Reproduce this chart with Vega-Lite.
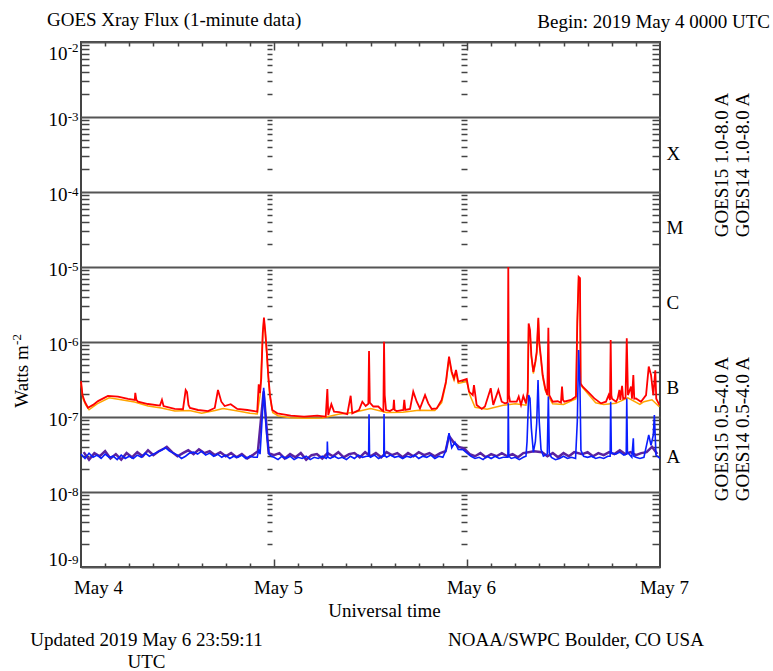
{
  "$schema": "https://vega.github.io/schema/vega-lite/v6.json",
  "width": 579,
  "height": 525,
  "autosize": {"type": "none"},
  "padding": {"left": 81, "top": 42, "right": 113, "bottom": 104},
  "background": "white",
  "config": {
    "view": {"stroke": "#444", "strokeWidth": 2},
    "axis": {"grid": false, "domain": false, "labelFont": "Liberation Serif", "labelFontSize": 19, "labelColor": "#000", "titleFont": "Liberation Serif", "titleFontSize": 19, "titleFontWeight": "normal", "titleColor": "#000", "tickColor": "#444", "tickWidth": 1.5}
  },
  "datasets": {
    "red": [
      {"t":"2019-05-04T00:00Z","v":3.0e-7},{"t":"2019-05-04T00:11Z","v":1.96e-7},{"t":"2019-05-04T00:28Z","v":1.6e-7},{"t":"2019-05-04T00:52Z","v":1.33e-7},{"t":"2019-05-04T01:30Z","v":1.45e-7},{"t":"2019-05-04T02:07Z","v":1.63e-7},{"t":"2019-05-04T03:21Z","v":1.91e-7},{"t":"2019-05-04T04:36Z","v":1.87e-7},{"t":"2019-05-04T05:51Z","v":1.74e-7},{"t":"2019-05-04T06:41Z","v":1.69e-7},{"t":"2019-05-04T06:45Z","v":2.1e-7},{"t":"2019-05-04T06:53Z","v":1.69e-7},{"t":"2019-05-04T07:05Z","v":1.6e-7},{"t":"2019-05-04T08:20Z","v":1.49e-7},{"t":"2019-05-04T09:49Z","v":1.42e-7},{"t":"2019-05-04T10:04Z","v":1.69e-7},{"t":"2019-05-04T10:16Z","v":1.4e-7},{"t":"2019-05-04T11:39Z","v":1.28e-7},{"t":"2019-05-04T12:41Z","v":1.27e-7},{"t":"2019-05-04T13:01Z","v":2.29e-7},{"t":"2019-05-04T13:11Z","v":2.15e-7},{"t":"2019-05-04T13:22Z","v":1.45e-7},{"t":"2019-05-04T13:33Z","v":1.32e-7},{"t":"2019-05-04T14:33Z","v":1.24e-7},{"t":"2019-05-04T15:48Z","v":1.2e-7},{"t":"2019-05-04T16:38Z","v":1.32e-7},{"t":"2019-05-04T17:02Z","v":2.29e-7},{"t":"2019-05-04T17:27Z","v":1.6e-7},{"t":"2019-05-04T17:52Z","v":1.4e-7},{"t":"2019-05-04T18:37Z","v":1.48e-7},{"t":"2019-05-04T19:26Z","v":1.28e-7},{"t":"2019-05-04T20:41Z","v":1.24e-7},{"t":"2019-05-04T21:55Z","v":1.18e-7},{"t":"2019-05-04T22:06Z","v":2.73e-7},{"t":"2019-05-04T22:16Z","v":2.09e-7},{"t":"2019-05-04T22:25Z","v":3.28e-7},{"t":"2019-05-04T22:36Z","v":1.31e-6},{"t":"2019-05-04T22:45Z","v":2.11e-6},{"t":"2019-05-04T22:55Z","v":1.37e-6},{"t":"2019-05-04T23:06Z","v":7.43e-7},{"t":"2019-05-04T23:17Z","v":3.63e-7},{"t":"2019-05-04T23:30Z","v":1.96e-7},{"t":"2019-05-04T23:47Z","v":1.24e-7},
      {"t":"2019-05-05T00:25Z","v":1.12e-7},{"t":"2019-05-05T02:05Z","v":1.04e-7},{"t":"2019-05-05T03:44Z","v":1.01e-7},{"t":"2019-05-05T05:23Z","v":1.04e-7},{"t":"2019-05-05T06:26Z","v":1.01e-7},{"t":"2019-05-05T06:38Z","v":2.36e-7},{"t":"2019-05-05T06:45Z","v":1.06e-7},{"t":"2019-05-05T07:08Z","v":1.48e-7},{"t":"2019-05-05T07:28Z","v":1.18e-7},{"t":"2019-05-05T08:05Z","v":1.16e-7},{"t":"2019-05-05T09:07Z","v":1.09e-7},{"t":"2019-05-05T09:32Z","v":1.92e-7},{"t":"2019-05-05T09:44Z","v":1.12e-7},{"t":"2019-05-05T10:34Z","v":1.24e-7},{"t":"2019-05-05T10:59Z","v":1.6e-7},{"t":"2019-05-05T11:24Z","v":1.4e-7},{"t":"2019-05-05T11:44Z","v":1.5e-7},{"t":"2019-05-05T11:49Z","v":7.6e-7},{"t":"2019-05-05T11:55Z","v":1.55e-7},{"t":"2019-05-05T12:21Z","v":1.38e-7},{"t":"2019-05-05T12:58Z","v":1.38e-7},{"t":"2019-05-05T13:24Z","v":1.24e-7},{"t":"2019-05-05T13:36Z","v":1.2e-7},{"t":"2019-05-05T13:41Z","v":1.01e-6},{"t":"2019-05-05T13:46Z","v":1.96e-7},{"t":"2019-05-05T13:56Z","v":1.24e-7},{"t":"2019-05-05T14:25Z","v":1.2e-7},{"t":"2019-05-05T14:50Z","v":1.28e-7},{"t":"2019-05-05T14:55Z","v":1.69e-7},{"t":"2019-05-05T15:00Z","v":1.24e-7},{"t":"2019-05-05T15:15Z","v":1.2e-7},{"t":"2019-05-05T16:05Z","v":1.24e-7},{"t":"2019-05-05T16:12Z","v":1.69e-7},{"t":"2019-05-05T16:20Z","v":1.24e-7},{"t":"2019-05-05T16:55Z","v":1.28e-7},{"t":"2019-05-05T17:19Z","v":2.18e-7},{"t":"2019-05-05T17:45Z","v":1.6e-7},{"t":"2019-05-05T18:09Z","v":1.3e-7},{"t":"2019-05-05T18:47Z","v":1.96e-7},{"t":"2019-05-05T19:11Z","v":1.52e-7},{"t":"2019-05-05T19:37Z","v":1.28e-7},{"t":"2019-05-05T20:14Z","v":1.3e-7},{"t":"2019-05-05T20:51Z","v":1.69e-7},{"t":"2019-05-05T21:23Z","v":2.96e-7},{"t":"2019-05-05T21:46Z","v":6.37e-7},{"t":"2019-05-05T22:06Z","v":4.02e-7},{"t":"2019-05-05T22:23Z","v":3.28e-7},{"t":"2019-05-05T22:38Z","v":4.23e-7},{"t":"2019-05-05T22:55Z","v":2.96e-7},{"t":"2019-05-05T23:32Z","v":3.11e-7},{"t":"2019-05-05T23:58Z","v":3.21e-7},
      {"t":"2019-05-06T00:15Z","v":2.18e-7},{"t":"2019-05-06T00:43Z","v":1.96e-7},{"t":"2019-05-06T00:52Z","v":2.67e-7},{"t":"2019-05-06T01:12Z","v":1.45e-7},{"t":"2019-05-06T01:50Z","v":1.28e-7},{"t":"2019-05-06T02:14Z","v":1.38e-7},{"t":"2019-05-06T02:57Z","v":2.42e-7},{"t":"2019-05-06T03:16Z","v":1.45e-7},{"t":"2019-05-06T03:54Z","v":2.29e-7},{"t":"2019-05-06T04:19Z","v":1.6e-7},{"t":"2019-05-06T04:43Z","v":1.52e-7},{"t":"2019-05-06T05:03Z","v":1.55e-7},{"t":"2019-05-06T05:08Z","v":1.0e-5},{"t":"2019-05-06T05:13Z","v":1.96e-7},{"t":"2019-05-06T05:21Z","v":1.6e-7},{"t":"2019-05-06T06:11Z","v":1.6e-7},{"t":"2019-05-06T06:26Z","v":1.87e-7},{"t":"2019-05-06T06:43Z","v":1.45e-7},{"t":"2019-05-06T07:00Z","v":1.9e-7},{"t":"2019-05-06T07:20Z","v":1.52e-7},{"t":"2019-05-06T07:33Z","v":2.18e-7},{"t":"2019-05-06T07:40Z","v":1.77e-6},{"t":"2019-05-06T07:50Z","v":1.45e-6},{"t":"2019-05-06T08:00Z","v":6.7e-7},{"t":"2019-05-06T08:15Z","v":4.0e-7},{"t":"2019-05-06T08:30Z","v":5.5e-7},{"t":"2019-05-06T08:40Z","v":7.4e-7},{"t":"2019-05-06T08:52Z","v":2.1e-6},{"t":"2019-05-06T08:59Z","v":1.0e-6},{"t":"2019-05-06T09:12Z","v":6.1e-7},{"t":"2019-05-06T09:25Z","v":3.6e-7},{"t":"2019-05-06T09:44Z","v":2.4e-7},{"t":"2019-05-06T09:59Z","v":1.96e-7},{"t":"2019-05-06T10:07Z","v":1.55e-6},{"t":"2019-05-06T10:14Z","v":1.96e-7},{"t":"2019-05-06T10:39Z","v":1.6e-7},{"t":"2019-05-06T11:17Z","v":1.62e-7},{"t":"2019-05-06T11:41Z","v":1.55e-7},{"t":"2019-05-06T11:49Z","v":2.54e-7},{"t":"2019-05-06T11:56Z","v":1.69e-7},{"t":"2019-05-06T12:06Z","v":1.6e-7},{"t":"2019-05-06T12:56Z","v":1.69e-7},{"t":"2019-05-06T13:33Z","v":1.87e-7},{"t":"2019-05-06T13:43Z","v":1.87e-6},{"t":"2019-05-06T13:53Z","v":7.4e-6},{"t":"2019-05-06T14:03Z","v":7.1e-6},{"t":"2019-05-06T14:08Z","v":2.8e-7},{"t":"2019-05-06T14:23Z","v":2.54e-7},{"t":"2019-05-06T15:01Z","v":2.18e-7},{"t":"2019-05-06T15:50Z","v":1.77e-7},{"t":"2019-05-06T16:40Z","v":1.52e-7},{"t":"2019-05-06T17:17Z","v":1.6e-7},{"t":"2019-05-06T17:37Z","v":1.96e-7},{"t":"2019-05-06T17:47Z","v":1.69e-7},{"t":"2019-05-06T17:52Z","v":1.06e-6},{"t":"2019-05-06T17:57Z","v":1.96e-7},{"t":"2019-05-06T18:02Z","v":1.75e-7},{"t":"2019-05-06T18:32Z","v":1.6e-7},{"t":"2019-05-06T18:44Z","v":1.75e-7},{"t":"2019-05-06T18:57Z","v":2.3e-7},{"t":"2019-05-06T19:04Z","v":1.69e-7},{"t":"2019-05-06T19:17Z","v":2.6e-7},{"t":"2019-05-06T19:25Z","v":1.75e-7},{"t":"2019-05-06T19:43Z","v":1.8e-7},{"t":"2019-05-06T19:52Z","v":1.12e-6},{"t":"2019-05-06T20:01Z","v":1.96e-7},{"t":"2019-05-06T20:24Z","v":2.54e-7},{"t":"2019-05-06T20:31Z","v":1.75e-7},{"t":"2019-05-06T20:41Z","v":3.63e-7},{"t":"2019-05-06T20:48Z","v":1.75e-7},{"t":"2019-05-06T21:01Z","v":1.77e-7},{"t":"2019-05-06T21:38Z","v":1.6e-7},{"t":"2019-05-06T22:16Z","v":1.96e-7},{"t":"2019-05-06T22:36Z","v":4.7e-7},{"t":"2019-05-06T22:53Z","v":3.63e-7},{"t":"2019-05-06T23:10Z","v":1.96e-7},{"t":"2019-05-06T23:25Z","v":4.2e-7},{"t":"2019-05-06T23:32Z","v":1.75e-7},{"t":"2019-05-06T23:43Z","v":1.6e-7},{"t":"2019-05-06T23:55Z","v":1.45e-7}
    ],
    "orange": [
      {"t":"2019-05-04T00:00Z","v":2.8e-7},{"t":"2019-05-04T00:15Z","v":1.75e-7},{"t":"2019-05-04T00:35Z","v":1.45e-7},{"t":"2019-05-04T01:00Z","v":1.25e-7},{"t":"2019-05-04T02:00Z","v":1.5e-7},{"t":"2019-05-04T03:30Z","v":1.8e-7},{"t":"2019-05-04T05:00Z","v":1.7e-7},{"t":"2019-05-04T06:40Z","v":1.58e-7},{"t":"2019-05-04T08:20Z","v":1.4e-7},{"t":"2019-05-04T10:00Z","v":1.32e-7},{"t":"2019-05-04T11:40Z","v":1.2e-7},{"t":"2019-05-04T13:30Z","v":1.22e-7},{"t":"2019-05-04T15:00Z","v":1.12e-7},{"t":"2019-05-04T16:40Z","v":1.22e-7},{"t":"2019-05-04T17:40Z","v":1.3e-7},{"t":"2019-05-04T19:30Z","v":1.2e-7},{"t":"2019-05-04T21:00Z","v":1.12e-7},{"t":"2019-05-04T21:55Z","v":1.1e-7},{"t":"2019-05-04T22:16Z","v":1.95e-7},{"t":"2019-05-04T22:36Z","v":1.25e-6},{"t":"2019-05-04T22:45Z","v":2.0e-6},{"t":"2019-05-04T22:55Z","v":1.3e-6},{"t":"2019-05-04T23:06Z","v":7.0e-7},{"t":"2019-05-04T23:17Z","v":3.4e-7},{"t":"2019-05-04T23:30Z","v":1.85e-7},{"t":"2019-05-04T23:50Z","v":1.15e-7},
      {"t":"2019-05-05T00:30Z","v":1.04e-7},{"t":"2019-05-05T02:00Z","v":9.8e-8},{"t":"2019-05-05T04:00Z","v":9.6e-8},{"t":"2019-05-05T06:00Z","v":9.7e-8},{"t":"2019-05-05T08:00Z","v":1.09e-7},{"t":"2019-05-05T10:00Z","v":1.16e-7},{"t":"2019-05-05T12:00Z","v":1.3e-7},{"t":"2019-05-05T14:00Z","v":1.15e-7},{"t":"2019-05-05T16:00Z","v":1.16e-7},{"t":"2019-05-05T18:00Z","v":1.23e-7},{"t":"2019-05-05T20:00Z","v":1.22e-7},{"t":"2019-05-05T20:51Z","v":1.55e-7},{"t":"2019-05-05T21:23Z","v":2.8e-7},{"t":"2019-05-05T21:46Z","v":6.0e-7},{"t":"2019-05-05T22:06Z","v":3.8e-7},{"t":"2019-05-05T22:23Z","v":3.1e-7},{"t":"2019-05-05T22:38Z","v":4.0e-7},{"t":"2019-05-05T22:55Z","v":2.8e-7},{"t":"2019-05-05T23:32Z","v":2.9e-7},{"t":"2019-05-05T23:58Z","v":3.0e-7},
      {"t":"2019-05-06T00:20Z","v":2.0e-7},{"t":"2019-05-06T01:00Z","v":1.35e-7},{"t":"2019-05-06T02:30Z","v":1.27e-7},{"t":"2019-05-06T04:30Z","v":1.43e-7},{"t":"2019-05-06T06:00Z","v":1.5e-7},{"t":"2019-05-06T07:20Z","v":1.44e-7},{"t":"2019-05-06T07:33Z","v":2.0e-7},{"t":"2019-05-06T07:40Z","v":1.6e-6},{"t":"2019-05-06T07:50Z","v":1.35e-6},{"t":"2019-05-06T08:00Z","v":6.3e-7},{"t":"2019-05-06T08:15Z","v":3.8e-7},{"t":"2019-05-06T08:30Z","v":5.2e-7},{"t":"2019-05-06T08:40Z","v":7.0e-7},{"t":"2019-05-06T08:52Z","v":2.0e-6},{"t":"2019-05-06T08:59Z","v":9.5e-7},{"t":"2019-05-06T09:12Z","v":5.8e-7},{"t":"2019-05-06T09:25Z","v":3.4e-7},{"t":"2019-05-06T09:44Z","v":2.25e-7},{"t":"2019-05-06T10:39Z","v":1.5e-7},{"t":"2019-05-06T12:00Z","v":1.47e-7},{"t":"2019-05-06T13:33Z","v":1.75e-7},{"t":"2019-05-06T13:43Z","v":1.75e-6},{"t":"2019-05-06T13:53Z","v":7.0e-6},{"t":"2019-05-06T14:03Z","v":6.7e-6},{"t":"2019-05-06T14:08Z","v":2.65e-7},{"t":"2019-05-06T15:01Z","v":2.05e-7},{"t":"2019-05-06T16:00Z","v":1.55e-7},{"t":"2019-05-06T17:00Z","v":1.47e-7},{"t":"2019-05-06T18:30Z","v":1.52e-7},{"t":"2019-05-06T20:00Z","v":1.8e-7},{"t":"2019-05-06T21:30Z","v":1.47e-7},{"t":"2019-05-06T22:00Z","v":1.6e-7},{"t":"2019-05-06T23:00Z","v":1.7e-7},{"t":"2019-05-06T23:55Z","v":1.37e-7}
    ],
    "blue": [
      {"t":"2019-05-04T00:00Z","v":3.2e-8},{"t":"2019-05-04T00:30Z","v":2.8e-8},{"t":"2019-05-04T01:00Z","v":3.3e-8},{"t":"2019-05-04T01:30Z","v":2.9e-8},{"t":"2019-05-04T02:00Z","v":3.1e-8},{"t":"2019-05-04T02:30Z","v":2.8e-8},{"t":"2019-05-04T03:00Z","v":3.2e-8},{"t":"2019-05-04T03:30Z","v":2.9e-8},{"t":"2019-05-04T04:00Z","v":3.0e-8},{"t":"2019-05-04T04:30Z","v":2.7e-8},{"t":"2019-05-04T05:00Z","v":3.1e-8},{"t":"2019-05-04T05:30Z","v":2.8e-8},{"t":"2019-05-04T06:00Z","v":3.0e-8},{"t":"2019-05-04T06:30Z","v":2.8e-8},{"t":"2019-05-04T07:00Z","v":3.1e-8},{"t":"2019-05-04T07:30Z","v":2.9e-8},{"t":"2019-05-04T08:00Z","v":3.3e-8},{"t":"2019-05-04T08:30Z","v":3.0e-8},{"t":"2019-05-04T09:00Z","v":3.2e-8},{"t":"2019-05-04T09:30Z","v":3.4e-8},{"t":"2019-05-04T10:00Z","v":3.6e-8},{"t":"2019-05-04T10:30Z","v":3.9e-8},{"t":"2019-05-04T11:00Z","v":3.5e-8},{"t":"2019-05-04T11:30Z","v":3.3e-8},{"t":"2019-05-04T12:00Z","v":3.1e-8},{"t":"2019-05-04T12:30Z","v":2.8e-8},{"t":"2019-05-04T13:00Z","v":3.0e-8},{"t":"2019-05-04T13:30Z","v":3.3e-8},{"t":"2019-05-04T14:00Z","v":3.4e-8},{"t":"2019-05-04T14:30Z","v":3.2e-8},{"t":"2019-05-04T15:00Z","v":3.5e-8},{"t":"2019-05-04T15:30Z","v":3.1e-8},{"t":"2019-05-04T16:00Z","v":3.3e-8},{"t":"2019-05-04T16:30Z","v":3.0e-8},{"t":"2019-05-04T17:00Z","v":3.2e-8},{"t":"2019-05-04T17:30Z","v":2.9e-8},{"t":"2019-05-04T18:00Z","v":3.1e-8},{"t":"2019-05-04T18:30Z","v":2.8e-8},{"t":"2019-05-04T19:00Z","v":3.0e-8},{"t":"2019-05-04T19:30Z","v":2.9e-8},{"t":"2019-05-04T20:00Z","v":3.1e-8},{"t":"2019-05-04T20:30Z","v":2.8e-8},{"t":"2019-05-04T21:00Z","v":3.0e-8},{"t":"2019-05-04T21:30Z","v":2.9e-8},{"t":"2019-05-04T21:55Z","v":2.9e-8},{"t":"2019-05-04T22:06Z","v":3.7e-8},{"t":"2019-05-04T22:16Z","v":3.2e-8},{"t":"2019-05-04T22:33Z","v":1.06e-7},{"t":"2019-05-04T22:43Z","v":2.46e-7},{"t":"2019-05-04T22:53Z","v":1.31e-7},{"t":"2019-05-04T23:06Z","v":5.75e-8},{"t":"2019-05-04T23:23Z","v":3.2e-8},{"t":"2019-05-04T23:40Z","v":3.0e-8},
      {"t":"2019-05-05T00:00Z","v":2.9e-8},{"t":"2019-05-05T00:30Z","v":2.7e-8},{"t":"2019-05-05T01:00Z","v":3.0e-8},{"t":"2019-05-05T01:30Z","v":2.8e-8},{"t":"2019-05-05T02:00Z","v":3.0e-8},{"t":"2019-05-05T02:30Z","v":2.7e-8},{"t":"2019-05-05T03:00Z","v":2.9e-8},{"t":"2019-05-05T03:30Z","v":2.8e-8},{"t":"2019-05-05T04:00Z","v":3.0e-8},{"t":"2019-05-05T04:30Z","v":2.7e-8},{"t":"2019-05-05T05:00Z","v":2.9e-8},{"t":"2019-05-05T05:30Z","v":2.8e-8},{"t":"2019-05-05T06:00Z","v":3.0e-8},{"t":"2019-05-05T06:30Z","v":2.8e-8},{"t":"2019-05-05T06:36Z","v":2.9e-8},{"t":"2019-05-05T06:38Z","v":4.7e-8},{"t":"2019-05-05T06:42Z","v":2.9e-8},{"t":"2019-05-05T07:00Z","v":2.8e-8},{"t":"2019-05-05T07:30Z","v":3.0e-8},{"t":"2019-05-05T08:00Z","v":2.8e-8},{"t":"2019-05-05T08:30Z","v":2.9e-8},{"t":"2019-05-05T09:00Z","v":2.7e-8},{"t":"2019-05-05T09:30Z","v":3.0e-8},{"t":"2019-05-05T10:00Z","v":2.8e-8},{"t":"2019-05-05T10:30Z","v":3.1e-8},{"t":"2019-05-05T11:00Z","v":2.9e-8},{"t":"2019-05-05T11:30Z","v":3.0e-8},{"t":"2019-05-05T11:46Z","v":3.0e-8},{"t":"2019-05-05T11:49Z","v":1.09e-7},{"t":"2019-05-05T11:53Z","v":3.0e-8},{"t":"2019-05-05T12:00Z","v":2.9e-8},{"t":"2019-05-05T12:30Z","v":3.1e-8},{"t":"2019-05-05T13:00Z","v":2.8e-8},{"t":"2019-05-05T13:30Z","v":3.0e-8},{"t":"2019-05-05T13:39Z","v":3.0e-8},{"t":"2019-05-05T13:41Z","v":1.1e-7},{"t":"2019-05-05T13:44Z","v":3.1e-8},{"t":"2019-05-05T14:00Z","v":2.9e-8},{"t":"2019-05-05T14:30Z","v":3.1e-8},{"t":"2019-05-05T15:00Z","v":2.9e-8},{"t":"2019-05-05T15:30Z","v":3.0e-8},{"t":"2019-05-05T16:00Z","v":2.8e-8},{"t":"2019-05-05T16:30Z","v":3.0e-8},{"t":"2019-05-05T17:00Z","v":2.9e-8},{"t":"2019-05-05T17:30Z","v":3.1e-8},{"t":"2019-05-05T18:00Z","v":2.8e-8},{"t":"2019-05-05T18:30Z","v":3.0e-8},{"t":"2019-05-05T19:00Z","v":2.9e-8},{"t":"2019-05-05T19:30Z","v":3.1e-8},{"t":"2019-05-05T20:00Z","v":2.8e-8},{"t":"2019-05-05T20:30Z","v":3.0e-8},{"t":"2019-05-05T21:00Z","v":2.9e-8},{"t":"2019-05-05T21:23Z","v":3.6e-8},{"t":"2019-05-05T21:46Z","v":6.1e-8},{"t":"2019-05-05T22:06Z","v":3.9e-8},{"t":"2019-05-05T22:30Z","v":4.6e-8},{"t":"2019-05-05T22:55Z","v":3.7e-8},{"t":"2019-05-05T23:32Z","v":3.65e-8},
      {"t":"2019-05-06T00:00Z","v":3.3e-8},{"t":"2019-05-06T00:30Z","v":3.0e-8},{"t":"2019-05-06T01:00Z","v":2.8e-8},{"t":"2019-05-06T01:30Z","v":2.9e-8},{"t":"2019-05-06T02:00Z","v":2.7e-8},{"t":"2019-05-06T02:30Z","v":3.0e-8},{"t":"2019-05-06T03:00Z","v":2.8e-8},{"t":"2019-05-06T03:30Z","v":3.0e-8},{"t":"2019-05-06T04:00Z","v":2.8e-8},{"t":"2019-05-06T04:30Z","v":2.9e-8},{"t":"2019-05-06T05:05Z","v":2.9e-8},{"t":"2019-05-06T05:08Z","v":1.52e-7},{"t":"2019-05-06T05:12Z","v":3.0e-8},{"t":"2019-05-06T05:30Z","v":2.8e-8},{"t":"2019-05-06T06:00Z","v":2.9e-8},{"t":"2019-05-06T06:30Z","v":2.7e-8},{"t":"2019-05-06T07:00Z","v":2.9e-8},{"t":"2019-05-06T07:20Z","v":3.0e-8},{"t":"2019-05-06T07:28Z","v":4.7e-8},{"t":"2019-05-06T07:40Z","v":1.96e-7},{"t":"2019-05-06T07:50Z","v":1.77e-7},{"t":"2019-05-06T08:00Z","v":7.1e-8},{"t":"2019-05-06T08:15Z","v":3.4e-8},{"t":"2019-05-06T08:30Z","v":4.7e-8},{"t":"2019-05-06T08:40Z","v":8.2e-8},{"t":"2019-05-06T08:50Z","v":3.1e-7},{"t":"2019-05-06T08:59Z","v":8.7e-8},{"t":"2019-05-06T09:12Z","v":3.7e-8},{"t":"2019-05-06T09:30Z","v":3.0e-8},{"t":"2019-05-06T09:59Z","v":3.2e-8},{"t":"2019-05-06T10:07Z","v":1.87e-7},{"t":"2019-05-06T10:14Z","v":3.3e-8},{"t":"2019-05-06T10:30Z","v":2.9e-8},{"t":"2019-05-06T11:00Z","v":2.7e-8},{"t":"2019-05-06T11:30Z","v":2.8e-8},{"t":"2019-05-06T12:00Z","v":3.0e-8},{"t":"2019-05-06T12:30Z","v":2.8e-8},{"t":"2019-05-06T13:00Z","v":2.9e-8},{"t":"2019-05-06T13:30Z","v":2.8e-8},{"t":"2019-05-06T13:43Z","v":8.7e-8},{"t":"2019-05-06T13:53Z","v":7.8e-7},{"t":"2019-05-06T14:03Z","v":2.42e-7},{"t":"2019-05-06T14:10Z","v":3.6e-8},{"t":"2019-05-06T14:30Z","v":3.0e-8},{"t":"2019-05-06T15:00Z","v":2.9e-8},{"t":"2019-05-06T15:30Z","v":3.0e-8},{"t":"2019-05-06T16:00Z","v":2.8e-8},{"t":"2019-05-06T16:30Z","v":2.9e-8},{"t":"2019-05-06T17:00Z","v":2.8e-8},{"t":"2019-05-06T17:30Z","v":3.0e-8},{"t":"2019-05-06T17:48Z","v":3.0e-8},{"t":"2019-05-06T17:52Z","v":1.6e-7},{"t":"2019-05-06T17:57Z","v":3.3e-8},{"t":"2019-05-06T18:30Z","v":3.2e-8},{"t":"2019-05-06T19:00Z","v":3.4e-8},{"t":"2019-05-06T19:30Z","v":3.1e-8},{"t":"2019-05-06T19:48Z","v":3.2e-8},{"t":"2019-05-06T19:52Z","v":1.77e-7},{"t":"2019-05-06T19:57Z","v":3.4e-8},{"t":"2019-05-06T20:30Z","v":2.9e-8},{"t":"2019-05-06T20:41Z","v":5.2e-8},{"t":"2019-05-06T20:45Z","v":3.0e-8},{"t":"2019-05-06T21:00Z","v":2.9e-8},{"t":"2019-05-06T21:30Z","v":2.8e-8},{"t":"2019-05-06T22:00Z","v":2.9e-8},{"t":"2019-05-06T22:36Z","v":5.75e-8},{"t":"2019-05-06T22:53Z","v":4.2e-8},{"t":"2019-05-06T23:10Z","v":5.75e-8},{"t":"2019-05-06T23:18Z","v":1.06e-7},{"t":"2019-05-06T23:30Z","v":3.1e-8},{"t":"2019-05-07T00:00Z","v":2.8e-8}
    ],
    "purple": [
      {"t":"2019-05-04T00:20Z","v":3.4e-8},{"t":"2019-05-04T01:00Z","v":2.7e-8},{"t":"2019-05-04T01:40Z","v":3.3e-8},{"t":"2019-05-04T02:20Z","v":3.0e-8},{"t":"2019-05-04T03:00Z","v":3.5e-8},{"t":"2019-05-04T03:40Z","v":2.8e-8},{"t":"2019-05-04T04:20Z","v":3.2e-8},{"t":"2019-05-04T05:00Z","v":2.7e-8},{"t":"2019-05-04T05:40Z","v":3.3e-8},{"t":"2019-05-04T06:20Z","v":2.9e-8},{"t":"2019-05-04T07:00Z","v":3.4e-8},{"t":"2019-05-04T07:40Z","v":3.0e-8},{"t":"2019-05-04T08:20Z","v":3.6e-8},{"t":"2019-05-04T09:00Z","v":3.1e-8},{"t":"2019-05-04T09:40Z","v":3.5e-8},{"t":"2019-05-04T10:20Z","v":3.8e-8},{"t":"2019-05-04T10:40Z","v":4.0e-8},{"t":"2019-05-04T11:20Z","v":3.4e-8},{"t":"2019-05-04T12:00Z","v":3.0e-8},{"t":"2019-05-04T12:40Z","v":3.3e-8},{"t":"2019-05-04T13:20Z","v":3.6e-8},{"t":"2019-05-04T14:00Z","v":3.2e-8},{"t":"2019-05-04T14:40Z","v":3.7e-8},{"t":"2019-05-04T15:20Z","v":3.3e-8},{"t":"2019-05-04T16:00Z","v":3.5e-8},{"t":"2019-05-04T16:40Z","v":3.1e-8},{"t":"2019-05-04T17:20Z","v":3.4e-8},{"t":"2019-05-04T18:00Z","v":3.0e-8},{"t":"2019-05-04T18:40Z","v":3.3e-8},{"t":"2019-05-04T19:20Z","v":2.9e-8},{"t":"2019-05-04T20:00Z","v":3.2e-8},{"t":"2019-05-04T20:40Z","v":2.8e-8},{"t":"2019-05-04T21:20Z","v":3.1e-8},{"t":"2019-05-04T22:00Z","v":3.5e-8},{"t":"2019-05-04T22:43Z","v":2.2e-7},{"t":"2019-05-04T23:20Z","v":3.3e-8},
      {"t":"2019-05-05T00:00Z","v":3.1e-8},{"t":"2019-05-05T00:40Z","v":3.3e-8},{"t":"2019-05-05T01:20Z","v":2.8e-8},{"t":"2019-05-05T02:00Z","v":3.2e-8},{"t":"2019-05-05T02:40Z","v":2.9e-8},{"t":"2019-05-05T03:20Z","v":3.3e-8},{"t":"2019-05-05T04:00Z","v":2.7e-8},{"t":"2019-05-05T04:40Z","v":3.1e-8},{"t":"2019-05-05T05:20Z","v":3.2e-8},{"t":"2019-05-05T06:00Z","v":2.8e-8},{"t":"2019-05-05T06:40Z","v":3.3e-8},{"t":"2019-05-05T07:20Z","v":3.0e-8},{"t":"2019-05-05T08:00Z","v":3.4e-8},{"t":"2019-05-05T08:40Z","v":2.9e-8},{"t":"2019-05-05T09:20Z","v":3.2e-8},{"t":"2019-05-05T10:00Z","v":3.3e-8},{"t":"2019-05-05T10:40Z","v":2.9e-8},{"t":"2019-05-05T11:20Z","v":3.4e-8},{"t":"2019-05-05T12:00Z","v":3.0e-8},{"t":"2019-05-05T12:40Z","v":3.3e-8},{"t":"2019-05-05T13:20Z","v":2.9e-8},{"t":"2019-05-05T14:00Z","v":3.4e-8},{"t":"2019-05-05T14:40Z","v":3.1e-8},{"t":"2019-05-05T15:20Z","v":3.3e-8},{"t":"2019-05-05T16:00Z","v":2.9e-8},{"t":"2019-05-05T16:40Z","v":3.3e-8},{"t":"2019-05-05T17:20Z","v":3.0e-8},{"t":"2019-05-05T18:00Z","v":3.4e-8},{"t":"2019-05-05T18:40Z","v":3.1e-8},{"t":"2019-05-05T19:20Z","v":3.3e-8},{"t":"2019-05-05T20:00Z","v":3.0e-8},{"t":"2019-05-05T20:40Z","v":3.3e-8},{"t":"2019-05-05T21:20Z","v":3.5e-8},{"t":"2019-05-05T21:46Z","v":5.6e-8},{"t":"2019-05-05T22:20Z","v":4.6e-8},{"t":"2019-05-05T23:00Z","v":4.0e-8},{"t":"2019-05-05T23:40Z","v":3.8e-8},
      {"t":"2019-05-06T00:20Z","v":3.2e-8},{"t":"2019-05-06T01:00Z","v":3.0e-8},{"t":"2019-05-06T01:40Z","v":3.3e-8},{"t":"2019-05-06T02:20Z","v":2.9e-8},{"t":"2019-05-06T03:00Z","v":3.2e-8},{"t":"2019-05-06T03:40Z","v":3.0e-8},{"t":"2019-05-06T04:20Z","v":3.3e-8},{"t":"2019-05-06T05:00Z","v":3.0e-8},{"t":"2019-05-06T05:40Z","v":3.2e-8},{"t":"2019-05-06T06:20Z","v":2.9e-8},{"t":"2019-05-06T07:00Z","v":3.3e-8},{"t":"2019-05-06T08:20Z","v":3.5e-8},{"t":"2019-05-06T09:20Z","v":3.4e-8},{"t":"2019-05-06T10:00Z","v":3.0e-8},{"t":"2019-05-06T10:40Z","v":3.3e-8},{"t":"2019-05-06T11:20Z","v":2.9e-8},{"t":"2019-05-06T12:00Z","v":3.3e-8},{"t":"2019-05-06T12:40Z","v":3.0e-8},{"t":"2019-05-06T13:20Z","v":3.4e-8},{"t":"2019-05-06T14:20Z","v":3.2e-8},{"t":"2019-05-06T15:00Z","v":3.4e-8},{"t":"2019-05-06T15:40Z","v":3.0e-8},{"t":"2019-05-06T16:20Z","v":3.3e-8},{"t":"2019-05-06T17:00Z","v":3.1e-8},{"t":"2019-05-06T17:40Z","v":3.4e-8},{"t":"2019-05-06T18:20Z","v":3.2e-8},{"t":"2019-05-06T19:00Z","v":3.6e-8},{"t":"2019-05-06T19:40Z","v":3.2e-8},{"t":"2019-05-06T20:20Z","v":3.4e-8},{"t":"2019-05-06T21:00Z","v":3.1e-8},{"t":"2019-05-06T21:40Z","v":3.3e-8},{"t":"2019-05-06T22:20Z","v":3.4e-8},{"t":"2019-05-06T23:00Z","v":4.0e-8},{"t":"2019-05-06T23:40Z","v":3.2e-8}
    ]
  },
  "layer": [
    {
      "data": {"name": "orange"},
      "mark": {"type": "line", "color": "#ffa500", "strokeWidth": 1.5},
      "encoding": {
        "x": {"field": "t", "type": "temporal", "scale": {"type": "utc", "domain": [1556928000000, 1557187200000]},
          "axis": {"orient": "bottom", "values": [1556928000000], "ticks": false, "labelExpr": "utcFormat(datum.value, '%b %-d')", "labelPadding": 11, "labelFlush": false, "labelOffset": 17, "title": "Universal time", "titleX": 303, "titleY": 49, "titleAlign": "center", "titleBaseline": "alphabetic"}},
        "y": {"field": "v", "type": "quantitative", "scale": {"type": "log", "domain": [1e-9, 1e-2]},
          "axis": {"orient": "left", "values": [1e-9, 1e-8, 1e-7, 1e-6, 1e-5, 1e-4, 1e-3, 1e-2], "ticks": false, "labelExpr": "'10'", "labelPadding": 14, "labelFlush": true, "labelOffset": 2, "grid": true, "gridColor": "#555", "gridWidth": 2, "title": "Watts m", "titleX": -54, "titleY": 334, "titleAngle": 270, "titleAlign": "center", "titleBaseline": "alphabetic"}}
      }
    },
    {
      "data": {"name": "red"},
      "mark": {"type": "line", "color": "#ff0000", "strokeWidth": 1.8},
      "encoding": {
        "x": {"field": "t", "type": "temporal", "scale": {"type": "utc", "domain": [1556928000000, 1557187200000]},
          "axis": {"orient": "bottom", "values": [1557014400000, 1557100800000, 1557187200000], "ticks": false, "labelExpr": "utcFormat(datum.value, '%b %-d')", "labelPadding": 11, "labelFlush": false, "labelOffset": 4, "title": null}},
        "y": {"field": "v", "type": "quantitative", "scale": {"type": "log", "domain": [1e-9, 1e-2]},
          "axis": {"orient": "left", "values": [1e-9, 1e-8, 1e-7, 1e-6, 1e-5, 1e-4, 1e-3, 1e-2], "ticks": false, "labelExpr": "'-' + round(-log(datum.value)/LN10)", "labelFontSize": 13, "labelPadding": 3, "labelFlush": true, "labelOffset": -1, "title": "-2", "titleFontSize": 13, "titleX": -61, "titleY": 297, "titleAngle": 270, "titleAlign": "center", "titleBaseline": "alphabetic"}}
      }
    },
    {
      "data": {"name": "purple"},
      "mark": {"type": "line", "color": "#5a22a0", "strokeWidth": 2.5},
      "encoding": {
        "x": {"field": "t", "type": "temporal", "scale": {"type": "utc", "domain": [1556928000000, 1557187200000]},
          "axis": {"orient": "bottom", "values": [1556938800000,1556949600000,1556960400000,1556971200000,1556982000000,1556992800000,1557003600000,1557025200000,1557036000000,1557046800000,1557057600000,1557068400000,1557079200000,1557090000000,1557111600000,1557122400000,1557133200000,1557144000000,1557154800000,1557165600000,1557176400000], "labels": false, "tickSize": -4, "title": null}},
        "y": {"field": "v", "type": "quantitative", "scale": {"type": "log", "domain": [1e-9, 1e-2]},
          "axis": {"orient": "left", "values": [2e-9,3e-9,4e-9,5e-9,6e-9,7e-9,8e-9,9e-9,2e-8,3e-8,4e-8,5e-8,6e-8,7e-8,8e-8,9e-8,2e-7,3e-7,4e-7,5e-7,6e-7,7e-7,8e-7,9e-7,2e-6,3e-6,4e-6,5e-6,6e-6,7e-6,8e-6,9e-6,2e-5,3e-5,4e-5,5e-5,6e-5,7e-5,8e-5,9e-5,2e-4,3e-4,4e-4,5e-4,6e-4,7e-4,8e-4,9e-4,2e-3,3e-3,4e-3,5e-3,6e-3,7e-3,8e-3,9e-3], "labels": false, "tickSize": -8, "title": null}}
      }
    },
    {
      "data": {"name": "blue"},
      "mark": {"type": "line", "color": "#0a1eff", "strokeWidth": 1.6},
      "encoding": {
        "x": {"field": "t", "type": "temporal", "scale": {"type": "utc", "domain": [1556928000000, 1557187200000]},
          "axis": {"orient": "bottom", "values": [1557014400000, 1557100800000], "labels": false, "tickSize": -8, "title": null}},
        "y": {"field": "v", "type": "quantitative", "scale": {"type": "log", "domain": [1e-9, 1e-2]},
          "axis": {"orient": "left", "offset": -186, "values": [2e-9,3e-9,4e-9,5e-9,6e-9,7e-9,8e-9,9e-9,2e-8,3e-8,4e-8,5e-8,6e-8,7e-8,8e-8,9e-8,2e-7,3e-7,4e-7,5e-7,6e-7,7e-7,8e-7,9e-7,2e-6,3e-6,4e-6,5e-6,6e-6,7e-6,8e-6,9e-6,2e-5,3e-5,4e-5,5e-5,6e-5,7e-5,8e-5,9e-5,2e-4,3e-4,4e-4,5e-4,6e-4,7e-4,8e-4,9e-4,2e-3,3e-3,4e-3,5e-3,6e-3,7e-3,8e-3,9e-3], "labels": false, "tickSize": -5, "title": null}}
      }
    },
    {
      "data": {"values": [{"label": "GOES15 1.0-8.0 A\nGOES14 1.0-8.0 A"}]},
      "mark": {"type": "text", "font": "Liberation Serif", "fontSize": 19, "color": "#000", "angle": 270, "align": "center", "baseline": "middle", "lineBreak": "\n", "lineHeight": 21},
      "encoding": {
        "x": {"datum": 1557214980000, "type": "temporal", "scale": {"type": "utc", "domain": [1556928000000, 1557187200000]},
          "axis": {"orient": "top", "values": [1556938800000,1556949600000,1556960400000,1556971200000,1556982000000,1556992800000,1557003600000,1557025200000,1557036000000,1557046800000,1557057600000,1557068400000,1557079200000,1557090000000,1557111600000,1557122400000,1557133200000,1557144000000,1557154800000,1557165600000,1557176400000], "labels": false, "tickSize": -4, "title": null}},
        "y": {"datum": 2.29e-4, "type": "quantitative", "scale": {"type": "log", "domain": [1e-9, 1e-2]},
          "axis": {"orient": "left", "offset": -380, "values": [2e-9,3e-9,4e-9,5e-9,6e-9,7e-9,8e-9,9e-9,2e-8,3e-8,4e-8,5e-8,6e-8,7e-8,8e-8,9e-8,2e-7,3e-7,4e-7,5e-7,6e-7,7e-7,8e-7,9e-7,2e-6,3e-6,4e-6,5e-6,6e-6,7e-6,8e-6,9e-6,2e-5,3e-5,4e-5,5e-5,6e-5,7e-5,8e-5,9e-5,2e-4,3e-4,4e-4,5e-4,6e-4,7e-4,8e-4,9e-4,2e-3,3e-3,4e-3,5e-3,6e-3,7e-3,8e-3,9e-3], "labels": false, "tickSize": -6, "title": null}},
        "text": {"field": "label", "type": "nominal"}
      }
    },
    {
      "data": {"values": [{"label": "GOES15 0.5-4.0 A\nGOES14 0.5-4.0 A"}]},
      "mark": {"type": "text", "font": "Liberation Serif", "fontSize": 19, "color": "#000", "angle": 270, "align": "center", "baseline": "middle", "lineBreak": "\n", "lineHeight": 21},
      "encoding": {
        "x": {"datum": 1557214980000, "type": "temporal", "scale": {"type": "utc", "domain": [1556928000000, 1557187200000]},
          "axis": {"orient": "top", "values": [1557014400000, 1557100800000], "labels": false, "tickSize": -8, "title": null}},
        "y": {"datum": 6.92e-8, "type": "quantitative", "scale": {"type": "log", "domain": [1e-9, 1e-2]},
          "axis": {"orient": "right", "values": [2e-9,3e-9,4e-9,5e-9,6e-9,7e-9,8e-9,9e-9,2e-8,3e-8,4e-8,5e-8,6e-8,7e-8,8e-8,9e-8,2e-7,3e-7,4e-7,5e-7,6e-7,7e-7,8e-7,9e-7,2e-6,3e-6,4e-6,5e-6,6e-6,7e-6,8e-6,9e-6,2e-5,3e-5,4e-5,5e-5,6e-5,7e-5,8e-5,9e-5,2e-4,3e-4,4e-4,5e-4,6e-4,7e-4,8e-4,9e-4,2e-3,3e-3,4e-3,5e-3,6e-3,7e-3,8e-3,9e-3], "labels": false, "tickSize": -8, "title": null}},
        "text": {"field": "label", "type": "nominal"}
      }
    },
    {
      "data": {"values": [{"label": "GOES Xray Flux (1-minute data)"}]},
      "mark": {"type": "text", "font": "Liberation Serif", "fontSize": 19, "color": "#000", "align": "left", "baseline": "alphabetic"},
      "encoding": {
        "x": {"datum": 1556912760000, "type": "temporal", "scale": {"type": "utc", "domain": [1556928000000, 1557187200000]}, "axis": null},
        "y": {"datum": 0.01633, "type": "quantitative", "scale": {"type": "log", "domain": [1e-9, 1e-2]},
          "axis": {"orient": "right", "values": [3.31e-4, 3.4e-5, 3.4e-6, 2.44e-7, 2.93e-8], "ticks": false, "labelPadding": 6, "labelFlush": false, "labelExpr": "datum.value < 1e-7 ? 'A' : datum.value < 1e-6 ? 'B' : datum.value < 1e-5 ? 'C' : datum.value < 1e-4 ? 'M' : 'X'", "title": null}},
        "text": {"field": "label", "type": "nominal"}
      }
    },
    {
      "data": {"values": [{"label": "Begin: 2019 May 4 0000 UTC"}]},
      "mark": {"type": "text", "font": "Liberation Serif", "fontSize": 19, "color": "#000", "align": "right", "baseline": "alphabetic"},
      "encoding": {
        "x": {"datum": 1557236460000, "type": "temporal", "scale": {"type": "utc", "domain": [1556928000000, 1557187200000]}, "axis": null},
        "y": {"datum": 0.01538, "type": "quantitative", "scale": {"type": "log", "domain": [1e-9, 1e-2]}, "axis": null},
        "text": {"field": "label", "type": "nominal"}
      }
    },
    {
      "data": {"values": [{"label": "Updated 2019 May 6 23:59:11\nUTC"}]},
      "mark": {"type": "text", "font": "Liberation Serif", "fontSize": 19, "color": "#000", "align": "center", "baseline": "alphabetic", "lineBreak": "\n", "lineHeight": 22},
      "encoding": {
        "x": {"datum": 1556957340000, "type": "temporal", "scale": {"type": "utc", "domain": [1556928000000, 1557187200000]}, "axis": null},
        "y": {"datum": 8.84e-11, "type": "quantitative", "scale": {"type": "log", "domain": [1e-9, 1e-2]}, "axis": null},
        "text": {"field": "label", "type": "nominal"}
      }
    },
    {
      "data": {"values": [{"label": "NOAA/SWPC Boulder, CO USA"}]},
      "mark": {"type": "text", "font": "Liberation Serif", "fontSize": 19, "color": "#000", "align": "center", "baseline": "alphabetic"},
      "encoding": {
        "x": {"datum": 1557149580000, "type": "temporal", "scale": {"type": "utc", "domain": [1556928000000, 1557187200000]}, "axis": null},
        "y": {"datum": 8.84e-11, "type": "quantitative", "scale": {"type": "log", "domain": [1e-9, 1e-2]}, "axis": null},
        "text": {"field": "label", "type": "nominal"}
      }
    }
  ],
  "resolve": {"axis": {"x": "independent", "y": "independent"}}
}
